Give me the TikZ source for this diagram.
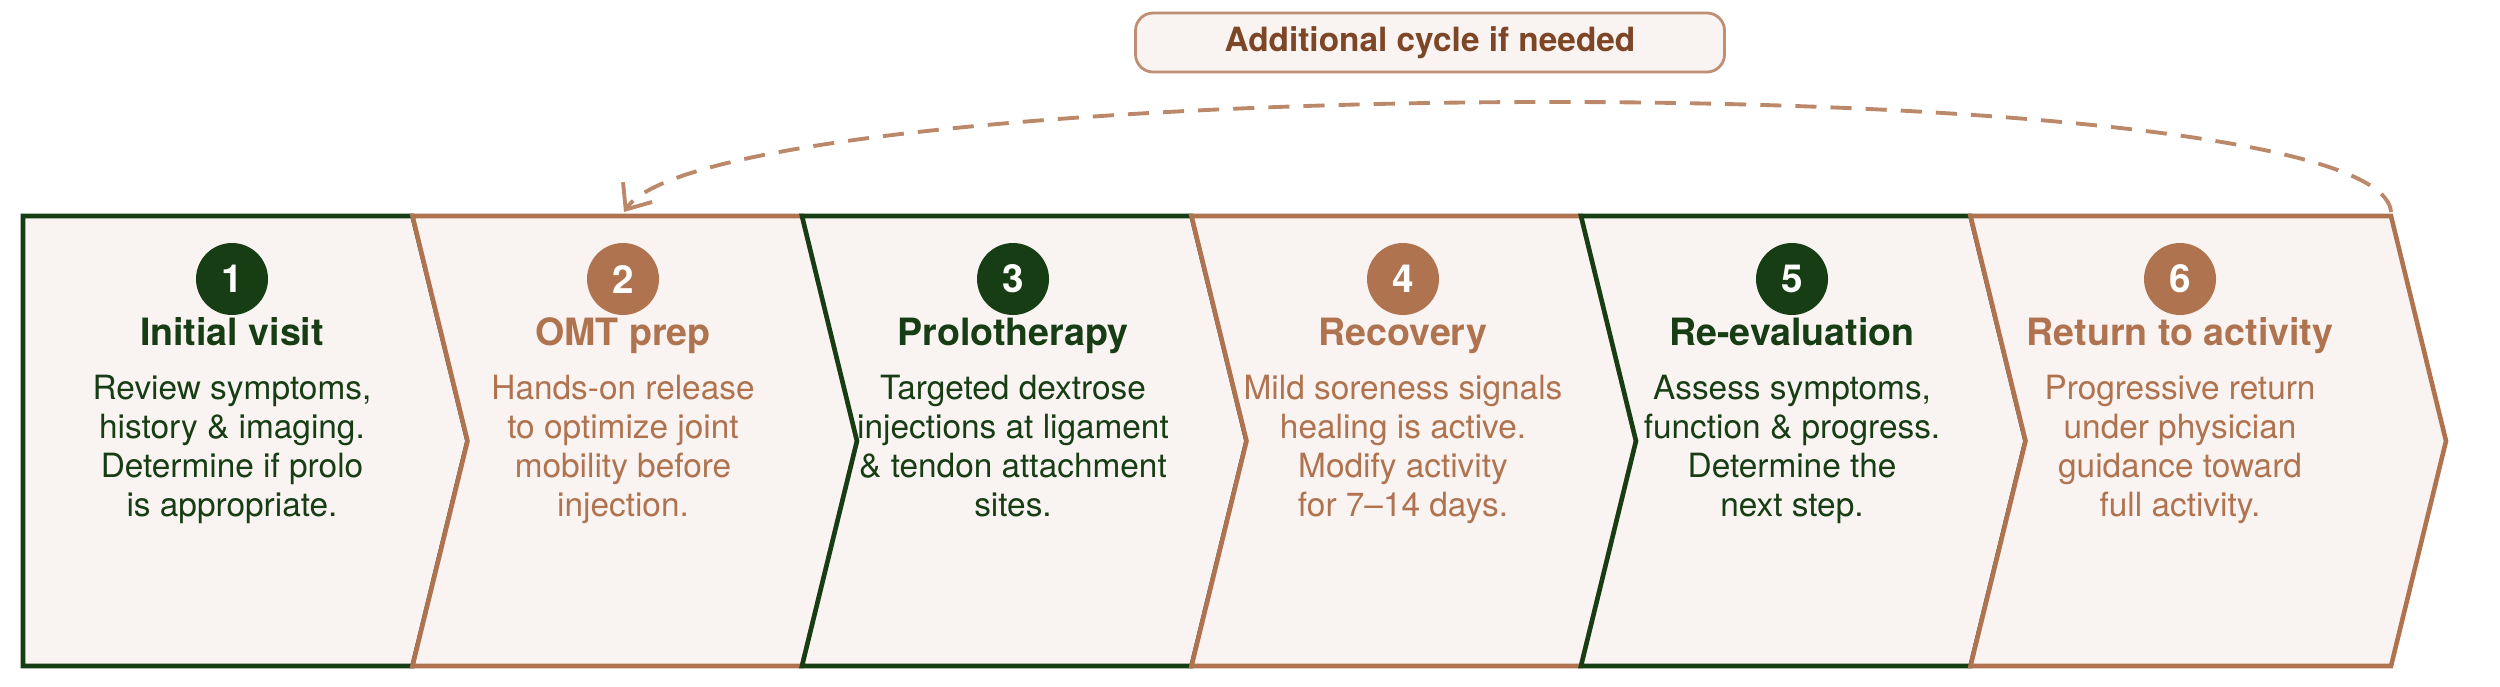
\documentclass[tikz,border=0pt]{standalone}
\usepackage{fontspec}
\setmainfont{TeX Gyre Heros}
\usetikzlibrary{arrows.meta}
\definecolor{pgreen}{HTML}{173D14}
\definecolor{pbrown}{HTML}{B07350}
\definecolor{pfill}{HTML}{F9F4F1}
\definecolor{pdark}{HTML}{7D4626}
\begin{document}
\begin{tikzpicture}[x=1cm,y=1cm,
    stage/.style={line width=1.3pt,fill=pfill,line join=miter},
    num/.style={circle,fill=#1,text=white,minimum size=0.72cm,inner sep=0,font=\fontsize{11}{13}\selectfont\bfseries},
    ttl/.style={anchor=base,text=#1,inner sep=0,font=\fontsize{10.7}{13}\selectfont\bfseries},
    txt/.style={anchor=north,text=#1,inner sep=0,align=center,font=\fontsize{9.5}{11.1}\selectfont},
    tag/.style={draw=pbrown!80,fill=pfill,rounded corners=5pt,line width=0.8pt,minimum width=5.89cm,minimum height=0.59cm,text=pdark,font=\fontsize{9.5}{11}\selectfont\bfseries}]
    \useasboundingbox (0,0) rectangle (25,6.86);
    \draw[stage,draw=pgreen] (0.23,4.70) -- (4.125,4.70) -- (4.675,2.45) -- (4.125,0.20) -- (0.23,0.20) -- cycle;
    \foreach \i/\xl/\xr/\col in {2/4.125/8.02/pbrown,3/8.02/11.915/pgreen,4/11.915/15.81/pbrown,5/15.81/19.705/pgreen,6/19.705/23.91/pbrown}
        \draw[stage,draw=\col] (\xl,4.70) -- (\xr,4.70) -- ({\xr+0.55},2.45) -- (\xr,0.20) -- (\xl,0.20) -- ({\xl+0.55},2.45) -- cycle;
    \foreach \i/\cx/\col/\head/\body in {
        1/2.32/pgreen/Initial visit/{Review symptoms,\\history \& imaging.\\Determine if prolo\\is appropriate.},
        2/6.23/pbrown/OMT prep/{Hands-on release\\to optimize joint\\mobility before\\injection.},
        3/10.13/pgreen/Prolotherapy/{Targeted dextrose\\injections at ligament\\\& tendon attachment\\sites.},
        4/14.03/pbrown/Recovery/{Mild soreness signals\\healing is active.\\Modify activity\\for 7–14 days.},
        5/17.92/pgreen/Re-evaluation/{Assess symptoms,\\function \& progress.\\Determine the\\next step.},
        6/21.80/pbrown/Return to activity/{Progressive return\\under physician\\guidance toward\\full activity.}}
    {
        \node[num=\col] (n\i) at (\cx,4.07) {\i};
        \node[ttl=\col] (t\i) at (\cx,3.41) {\head};
        \node[txt=\col] (b\i) at (\cx,3.12) {\body};
    }
    \node[tag] (again) at (14.30,6.435) {Additional cycle if needed};
    \coordinate (from) at (23.91,4.74);
    \coordinate (to) at (6.24,4.74);
    \draw[pbrown!85,line width=1.1pt,dash pattern=on 6pt off 4pt,-{Straight Barb[length=6pt,width=10pt]}]
        (from) .. controls (23.8,6.25) and (7.2,6.15) .. (to);
\end{tikzpicture}
\end{document}
